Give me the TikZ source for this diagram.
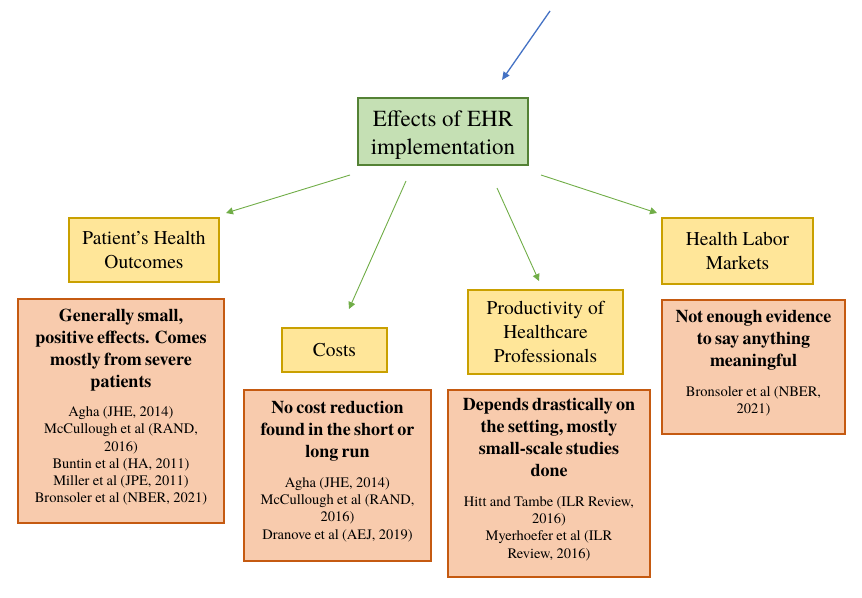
\documentclass[tikz,border=0pt]{standalone}
\usepackage{fontspec}
\setmainfont{TeX Gyre Termes}
\usepackage{xcolor}
\usetikzlibrary{arrows.meta}
\definecolor{rootFill}{RGB}{197, 224, 180}
\definecolor{rootLine}{RGB}{84, 130, 53}
\definecolor{catFill}{RGB}{255, 230, 153}
\definecolor{catLine}{RGB}{201, 160, 0}
\definecolor{resFill}{RGB}{248, 203, 173}
\definecolor{resLine}{RGB}{197, 90, 17}
\definecolor{arrowGreen}{RGB}{112, 173, 71}
\definecolor{arrowBlue}{RGB}{68, 114, 196}

\newcommand{\findings}[2]{{\fontsize{18}{22}\selectfont\bfseries #1\par}\vspace{12.5pt}{\fontsize{14.5}{17.2}\selectfont #2\par}\nointerlineskip\rule{0pt}{8pt}}

\begin{document}
\begin{tikzpicture}[x=1pt, y=-1pt,
    rootbox/.style={draw=rootLine, fill=rootFill, line width=2.2pt, minimum width=170pt, minimum height=67pt, align=center, font=\fontsize{23}{28}\selectfont},
    catbox/.style={draw=catLine, fill=catFill, line width=1.3pt, align=center, font=\fontsize{19.5}{24}\selectfont},
    resbox/.style={draw=resLine, fill=resFill, line width=1.3pt, inner sep=3pt, align=center},
    link/.style={->, arrowGreen, line width=0.9pt, >={Triangle[width=7pt, length=7pt]}}]
                \useasboundingbox (0,0) rectangle (862,597);
                \node[rootbox] (root) at (443,131.5) {\rule{0pt}{23pt}Effects of EHR\\implementation};
                \node[catbox, minimum width=150pt, minimum height=64pt] (patient) at (144,250) {Patient’s Health\\Outcomes};
                \node[catbox, minimum width=105pt, minimum height=44pt] (costs) at (334.5,350) {Costs};
                \node[catbox, minimum width=155pt, minimum height=84pt] (prod) at (545.5,332) {Productivity of\\Healthcare\\Professionals};
                \node[catbox, minimum width=151pt, minimum height=66pt] (labor) at (737.5,251) {Health Labor\\Markets};
                \node[resbox, text width=200pt, minimum height=224pt] (patientres) at (121,411) {\findings{Generally small,\\positive effects. Comes\\mostly from severe\\patients}{Agha (JHE, 2014)\\McCullough et al (RAND,\\2016)\\Buntin et al (HA, 2011)\\Miller et al (JPE, 2011)\\Bronsoler et al (NBER, 2021)}};
                \node[resbox, text width=181pt, minimum height=171pt] (costsres) at (337.5,475.5) {\findings{No cost reduction\\found in the short or\\long run}{Agha (JHE, 2014)\\McCullough et al (RAND,\\2016)\\Dranove et al (AEJ, 2019)}};
                \node[resbox, text width=196pt, minimum height=187pt] (prodres) at (549,483.5) {\findings{Depends drastically on\\the setting, mostly\\small-scale studies\\done}{Hitt and Tambe (ILR Review,\\2016)\\Myerhoefer et al (ILR\\Review, 2016)}};
                \node[resbox, text width=177pt, minimum height=134pt] (laborres) at (753.5,367) {\findings{Not enough evidence\\to say anything\\meaningful}{Bronsoler et al (NBER,\\2021)}};
                \coordinate (toproot) at (550,11);
                \coordinate (aboveroot) at (502,80);
                \coordinate (fromroot1) at (350,175);
                \coordinate (topatient) at (226,213);
                \coordinate (fromroot2) at (406,181);
                \coordinate (tocosts) at (349,309);
                \coordinate (fromroot3) at (497,188);
                \coordinate (toprod) at (539,281);
                \coordinate (fromroot4) at (541,175);
                \coordinate (tolabor) at (657,213);
                \draw[->, arrowBlue, line width=1.3pt, >={Triangle[width=7pt, length=8pt]}] (toproot) -- (aboveroot);
                \draw[link] (fromroot1) -- (topatient);
                \draw[link] (fromroot2) -- (tocosts);
                \draw[link] (fromroot3) -- (toprod);
                \draw[link] (fromroot4) -- (tolabor);
            \end{tikzpicture}
\end{document}
